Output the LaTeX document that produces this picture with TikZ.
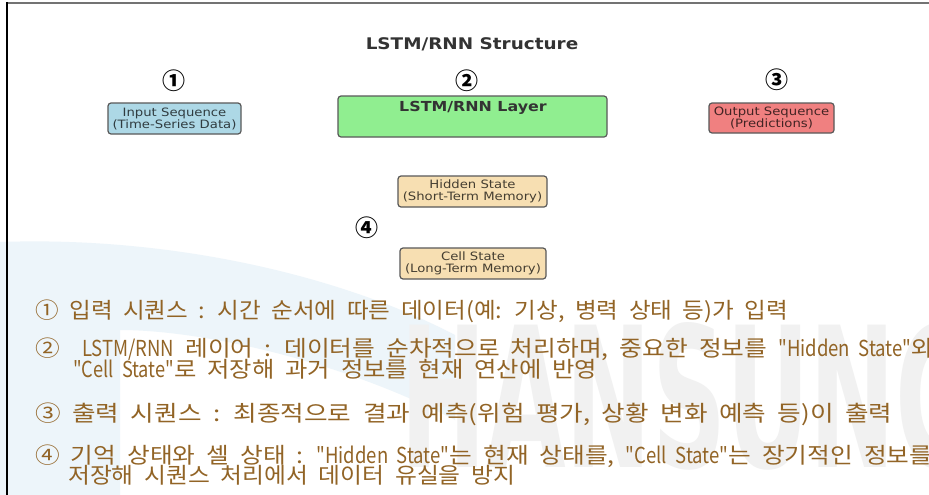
\documentclass[tikz,border=0pt]{standalone}
\usepackage{fontspec}
\usepackage{graphicx}
\newfontfamily\dv[FakeStretch=1.15]{DejaVu Sans}
\newfontfamily\kr[WordSpace=2.0]{Noto Sans CJK KR}
\newfontfamily\krl[FakeStretch=0.75,WordSpace=2.0]{Noto Sans CJK KR}
\newcommand\lt[1]{{\krl #1}}
\definecolor{kbrown}{RGB}{146,100,38}
\definecolor{inblue}{HTML}{ADD8E6}
\definecolor{lgreen}{HTML}{90EE90}
\definecolor{lcoral}{HTML}{F08080}
\definecolor{wheatc}{HTML}{F7DFB2}
\definecolor{wmblue}{HTML}{EDF5FA}
\definecolor{wmgrey}{HTML}{F1F1F1}
\definecolor{titlec}{HTML}{333333}
\tikzset{
  boxst/.style={draw=black!65, line width=1.2pt, rounded corners=3pt, inner sep=0pt},
  boxtxt/.style={font=\dv\fontsize{11.5}{12}\selectfont, text=black, text opacity=0.72, align=center, inner sep=0pt},
  circnum/.style={font=\kr\bfseries\fontsize{23}{23}\selectfont, inner sep=0pt},
  krline/.style={font=\kr\fontsize{22}{24}\selectfont, text=kbrown, anchor=base west, inner sep=0pt}
}
\begin{document}
\begin{tikzpicture}[x=1pt,y=-1pt]
\useasboundingbox (0,0) rectangle (929,495);
\fill[white] (0,0) rectangle (929,495);
% watermark
\fill[wmblue] (0,242) .. controls (170,236) and (340,275) .. (455,335) -- (455,420) .. controls (340,360) and (200,330) .. (120,330) -- (120,495) -- (0,495) -- cycle;
\node[anchor=south west, inner sep=0pt, text=wmgrey] (wm) at (400,470) {\resizebox{580pt}{145pt}{\dv\bfseries HANSUNG}};
% frame
\draw[line width=2pt, black!55] (6,3) -- (929,3);
\draw[line width=2pt, black] (7,2) -- (7,495);
% title
\node[font=\dv\bfseries\fontsize{16}{16}\selectfont, text=titlec] (title) at (472,44) {LSTM/RNN Structure};
% numbers
\node[circnum] (n1) at (174,81) {①};
\node[circnum] (n2) at (467,81) {②};
\node[circnum] (n3) at (777,80) {③};
\node[circnum] (n4) at (367,228) {④};
% boxes
\node[boxst, fill=inblue, minimum width=133pt, minimum height=31pt] (inp) at (174.5,118.5) {};
\node[boxtxt] (inpt) at (174.5,118.5) {Input Sequence\\(Time-Series Data)};
\node[boxst, fill=lgreen, minimum width=269pt, minimum height=41pt] (lstm) at (472.5,116.5) {};
\node[font=\dv\bfseries\fontsize{13.8}{14}\selectfont, text=titlec, inner sep=0pt] (lstmt) at (473,108) {LSTM/RNN Layer};
\node[boxst, fill=lcoral, minimum width=125pt, minimum height=30pt] (out) at (771.5,118) {};
\node[boxtxt] (outt) at (771.5,118) {Output Sequence\\(Predictions)};
\node[boxst, fill=wheatc, minimum width=149pt, minimum height=31pt] (hid) at (472.5,191.5) {};
\node[boxtxt] (hidt) at (472.5,191.5) {Hidden State\\(Short-Term Memory)};
\node[boxst, fill=wheatc, minimum width=146pt, minimum height=31pt] (cell) at (473,263.5) {};
\node[boxtxt] (cellt) at (473,263.5) {Cell State\\(Long-Term Memory)};
% Korean explanation lines
\node[krline] (l1) at (35,318) {\resizebox{753pt}{\height}{① 입력 시퀀스 : 시간 순서에 따른 데이터(예: 기상, 병력 상태 등)가 입력}};
\node[krline] (l2) at (35,356) {\resizebox{899pt}{\height}{② \ \lt{LSTM/RNN} 레이어 : 데이터를 순차적으로 처리하며, 중요한 정보를 \lt{"Hidden State"}와}};
\node[krline] (l3) at (73,377) {\resizebox{524pt}{\height}{\lt{"Cell State"}로 저장해 과거 정보를 현재 연산에 반영}};
\node[krline] (l4) at (35,421) {\resizebox{857pt}{\height}{③ 출력 시퀀스 : 최종적으로 결과 예측(위험 평가, 상황 변화 예측 등)이 출력}};
\node[krline] (l5) at (35,463) {\resizebox{897pt}{\height}{④ 기억 상태와 셀 상태 : \lt{"Hidden State"}는 현재 상태를, \lt{"Cell State"}는 장기적인 정보를}};
\node[krline] (l6) at (68,483) {\resizebox{447pt}{\height}{저장해 시퀀스 처리에서 데이터 유실을 방지}};
\end{tikzpicture}
\end{document}
